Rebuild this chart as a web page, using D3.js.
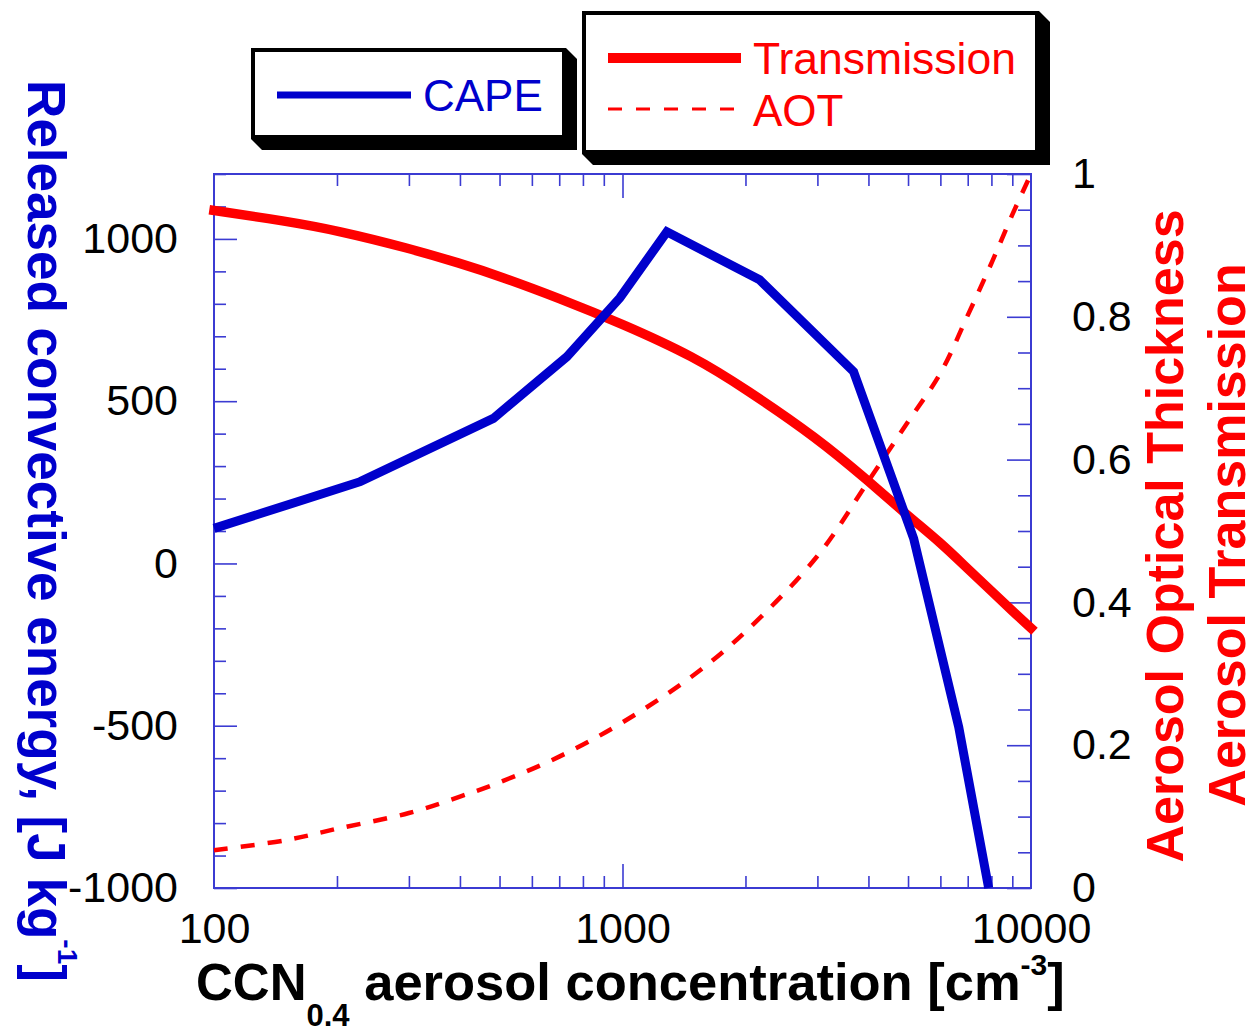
<!DOCTYPE html>
<html><head><meta charset="utf-8">
<script src="https://cdn.jsdelivr.net/npm/d3@7"></script>
<style>body{margin:0;background:#fff}svg{display:block}</style>
</head><body>
<svg id="c" width="1254" height="1031"></svg>
<script>
// ---- data ----
const ccnCape = [100, 228, 483, 731, 985, 1284, 2165, 3679, 5161, 6653, 7876];
const cape = [108, 252, 447, 637, 818, 1022, 874, 591, 77, -504, -1000];
const ccnAer = [100, 150, 200, 300, 400, 500, 700, 1000, 1500, 2000, 3000, 4000, 5000, 6000, 7000, 8000, 9000, 10000];
const transmission = [0.949, 0.934, 0.921, 0.896, 0.875, 0.857, 0.826, 0.790, 0.744, 0.699, 0.630, 0.570, 0.521, 0.484, 0.447, 0.416, 0.388, 0.364];
const aot = [0.053, 0.067, 0.083, 0.105, 0.128, 0.148, 0.184, 0.232, 0.299, 0.359, 0.465, 0.570, 0.653, 0.721, 0.802, 0.875, 0.943, 1.0];
const xTickLabels = [100, 1000, 10000];
const leftTickLabels = [-1000, -500, 0, 500, 1000];
const rightTickLabels = [0, 0.2, 0.4, 0.6, 0.8, 1];
const legendCape = ["CAPE"];
const legendAer = ["Transmission", "AOT"];

// ---- layout ----
const L = 214, R = 1031, T = 174, B = 888;
const FONT = "'Liberation Sans', Arial, Helvetica, sans-serif";
const AX = "#3b3bd2";
const BLUE = "#0000cc", RED = "#ff0000";

const svg = d3.select("#c");
const x = d3.scaleLog().domain([100, 10000]).range([L, R]);
const yL = d3.scaleLinear().domain([-1000, 1200]).range([B, T]);
const yR = d3.scaleLinear().domain([0, 1]).range([B, T]);

// minor/major tick values
const xMinor = [];
for (let d = 100; d < 10000; d *= 10) for (let k = 2; k <= 9; k++) if (k*d !== 1000) xMinor.push(k * d);
const xMajor = [1000];
const yLMinor = d3.range(-1000, 1201, 100).filter(v => v % 500 !== 0);
const yLMajor = d3.range(-1000, 1201, 500);
const yRMinor = d3.range(0, 21).map(i => i * 0.05).filter((v, i) => i % 4 !== 0);
const yRMajor = rightTickLabels;

function styleTicks(g) {
  g.select(".domain").remove();
  g.selectAll("line").attr("stroke", AX).attr("stroke-width", 1.6);
}
// bottom ticks (pointing up)
svg.append("g").attr("transform", `translate(0,${B})`).call(d3.axisTop(x).tickValues(xMinor).tickSize(12).tickFormat("")).call(styleTicks);
svg.append("g").attr("transform", `translate(0,${B})`).call(d3.axisTop(x).tickValues(xMajor).tickSize(24).tickFormat("")).call(styleTicks);
// top ticks (pointing down)
svg.append("g").attr("transform", `translate(0,${T})`).call(d3.axisBottom(x).tickValues(xMinor).tickSize(12).tickFormat("")).call(styleTicks);
svg.append("g").attr("transform", `translate(0,${T})`).call(d3.axisBottom(x).tickValues(xMajor).tickSize(24).tickFormat("")).call(styleTicks);
// left ticks (pointing right)
svg.append("g").attr("transform", `translate(${L},0)`).call(d3.axisRight(yL).tickValues(yLMinor).tickSize(12).tickFormat("")).call(styleTicks);
svg.append("g").attr("transform", `translate(${L},0)`).call(d3.axisRight(yL).tickValues(yLMajor).tickSize(23).tickFormat("")).call(styleTicks);
// right ticks (pointing left)
svg.append("g").attr("transform", `translate(${R},0)`).call(d3.axisLeft(yR).tickValues(yRMinor).tickSize(13).tickFormat("")).call(styleTicks);
svg.append("g").attr("transform", `translate(${R},0)`).call(d3.axisLeft(yR).tickValues(yRMajor).tickSize(24).tickFormat("")).call(styleTicks);

// frame
svg.append("rect").attr("x", L).attr("y", T).attr("width", R - L).attr("height", B - T)
  .attr("fill", "none").attr("stroke", AX).attr("stroke-width", 2);

// tick labels
function styleLabels(g) {
  g.select(".domain").remove();
  g.selectAll("line").remove();
  g.selectAll("text").attr("font-family", FONT).attr("font-size", 43).attr("fill", "#000");
}
svg.append("g").attr("transform", `translate(0,${B})`)
  .call(d3.axisBottom(x).tickValues(xTickLabels).tickSize(0).tickPadding(24).tickFormat(d => String(d))).call(styleLabels);
svg.append("g").attr("transform", `translate(${L},0)`)
  .call(d3.axisLeft(yL).tickValues(leftTickLabels).tickSize(0).tickPadding(36).tickFormat(d => String(d))).call(styleLabels);
svg.append("g").attr("transform", `translate(${R},0)`)
  .call(d3.axisRight(yR).tickValues(rightTickLabels).tickSize(0).tickPadding(41).tickFormat(d => d === 0 || d === 1 ? String(d) : d.toFixed(1))).call(styleLabels);

// lines
const aerData = ccnAer.map((c, i) => ({ c, t: transmission[i], a: aot[i] }));
const capeData = ccnCape.map((c, i) => ({ c, v: cape[i] }));

svg.append("path").datum(aerData)
  .attr("d", d3.line().x(d => x(d.c)).y(d => yR(d.a)).curve(d3.curveCatmullRom.alpha(0.5)))
  .attr("fill", "none").attr("stroke", RED).attr("stroke-width", 4.5).attr("stroke-dasharray", "14,13");
svg.append("path").datum(aerData)
  .attr("d", d3.line().x(d => x(d.c)).y(d => yR(d.t)).curve(d3.curveBasis))
  .attr("fill", "none").attr("stroke", RED).attr("stroke-width", 9.5).attr("stroke-linecap", "square");
svg.append("path").datum(capeData)
  .attr("d", d3.line().x(d => x(d.c)).y(d => yL(d.v)))
  .attr("fill", "none").attr("stroke", BLUE).attr("stroke-width", 9).attr("stroke-linejoin", "miter").attr("stroke-linecap", "butt");

// legend boxes with 3D shadow
function legendBox(x1, y1, x2, y2, off) {
  svg.append("polygon")
    .attr("points", [[x2, y1], [x2 + off, y1 + off], [x2 + off, y2 + off], [x1 + off, y2 + off], [x1, y2]].map(p => p.join(",")).join(" "))
    .attr("fill", "#000");
  svg.append("rect").attr("x", x1 + 2).attr("y", y1 + 2).attr("width", x2 - x1 - 4).attr("height", y2 - y1 - 4)
    .attr("fill", "#fff").attr("stroke", "#000").attr("stroke-width", 4);
}
legendBox(251, 48, 566, 139, 11);
legendBox(582, 11, 1039, 154, 11);

svg.append("line").attr("x1", 277).attr("x2", 411).attr("y1", 95).attr("y2", 95).attr("stroke", BLUE).attr("stroke-width", 7);
svg.append("text").attr("x", 423).attr("y", 111).attr("font-family", FONT).attr("font-size", 44).attr("fill", BLUE).text(legendCape[0]);
svg.append("line").attr("x1", 608).attr("x2", 741).attr("y1", 58).attr("y2", 58).attr("stroke", RED).attr("stroke-width", 10);
svg.append("text").attr("x", 753).attr("y", 74).attr("font-family", FONT).attr("font-size", 44.5).attr("fill", RED).text(legendAer[0]);
svg.append("line").attr("x1", 608).attr("x2", 741).attr("y1", 109).attr("y2", 109).attr("stroke", RED).attr("stroke-width", 3).attr("stroke-dasharray", "14,14");
svg.append("text").attr("x", 753).attr("y", 126).attr("font-family", FONT).attr("font-size", 44).attr("fill", RED).text(legendAer[1]);

// axis titles
const xt = svg.append("text").attr("x", 196).attr("y", 1000).attr("font-family", FONT).attr("font-weight", "bold").attr("font-size", 51).attr("fill", "#000");
xt.append("tspan").text("CCN");
xt.append("tspan").attr("dy", 26).attr("font-size", 31).text("0.4");
xt.append("tspan").attr("dy", -26).attr("font-size", 52.5).text("\u00a0aerosol concentration [cm");
xt.append("tspan").attr("dy", -25).attr("font-size", 30).text("-3");
xt.append("tspan").attr("dy", 25).attr("font-size", 52.5).text("]");

const lt = svg.append("text").attr("transform", "translate(28,531) rotate(90)").attr("text-anchor", "middle")
  .attr("font-family", FONT).attr("font-weight", "bold").attr("font-size", 53).attr("fill", BLUE);
lt.append("tspan").text("Released convective energy, [J kg");
lt.append("tspan").attr("dy", -30).attr("font-size", 28).text("-1");
lt.append("tspan").attr("dy", 30).text("]");

svg.append("text").attr("transform", "translate(1183,536) rotate(-90)").attr("text-anchor", "middle")
  .attr("font-family", FONT).attr("font-weight", "bold").attr("font-size", 52).attr("fill", RED).text("Aerosol Optical Thickness");
svg.append("text").attr("transform", "translate(1245,535) rotate(-90)").attr("text-anchor", "middle")
  .attr("font-family", FONT).attr("font-weight", "bold").attr("font-size", 52).attr("fill", RED).text("Aerosol Transmission");
</script>
</body></html>
